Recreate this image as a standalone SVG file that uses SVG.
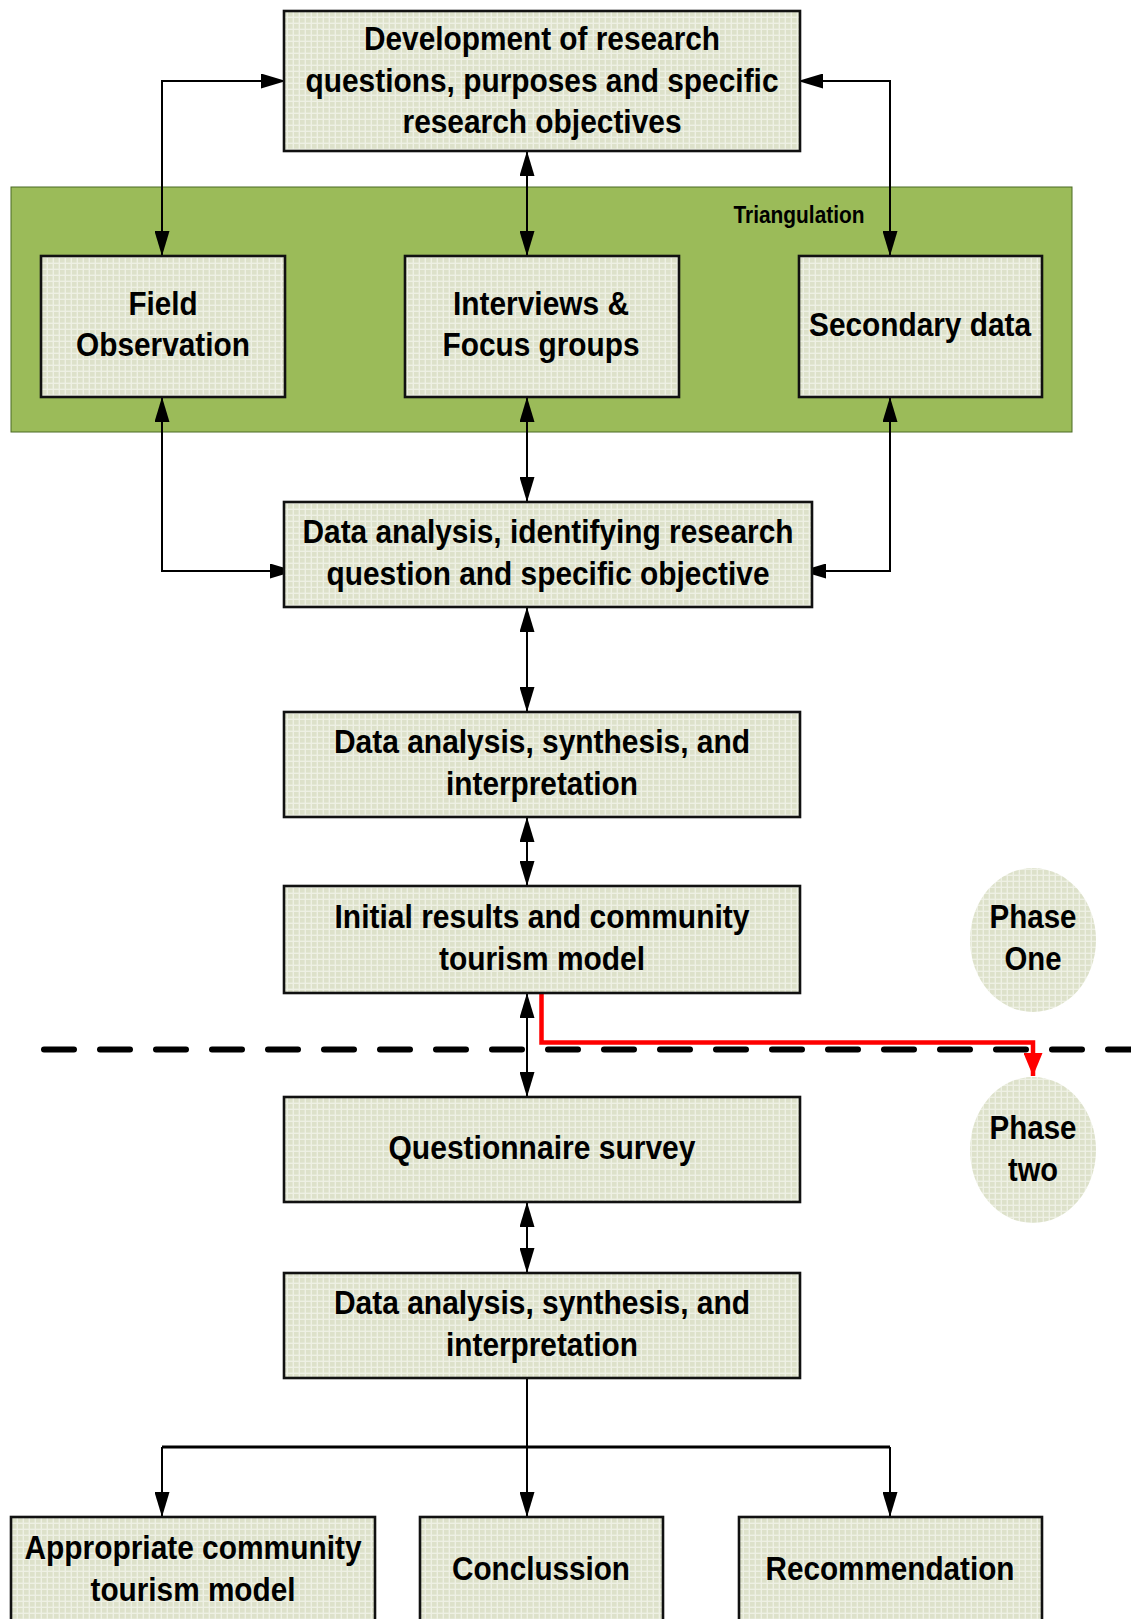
<svg xmlns="http://www.w3.org/2000/svg" width="1131" height="1619" viewBox="0 0 1131 1619">
  <defs>
    <pattern id="grid" width="6" height="6" patternUnits="userSpaceOnUse">
      <rect width="6" height="6" fill="#eef0e4"/>
      <rect x="0" y="0" width="4.6" height="4.6" fill="#dde1ca"/>
    </pattern>
    <marker id="ah" viewBox="0 0 25 15" markerWidth="25" markerHeight="15" refX="25" refY="7.5" orient="auto-start-reverse" markerUnits="userSpaceOnUse">
      <path d="M0,0 L25,7.5 L0,15 z" fill="#000"/>
    </marker>
    <marker id="ahr" viewBox="0 0 23 19" markerWidth="23" markerHeight="19" refX="23" refY="9.5" orient="auto" markerUnits="userSpaceOnUse">
      <path d="M0,0 L23,9.5 L0,19 z" fill="#ff0000"/>
    </marker>
  </defs>
  <style>
    .box { fill: url(#grid); stroke: #111; stroke-width: 2.6; }
    .oval { fill: url(#grid); stroke: none; }
    .t { font-family: "Liberation Sans", Arial, sans-serif; font-weight: bold; font-size: 34px; fill: #000; text-anchor: middle; }
    .small { font-size: 23px; }
    .ln { fill: none; stroke: #000; stroke-width: 2; }
    .two { marker-start: url(#ah); marker-end: url(#ah); }
    .one { marker-end: url(#ah); }
  </style>

  <rect width="1131" height="1619" fill="#fff"/>

  <!-- triangulation panel -->
  <g id="triangulation">
    <rect x="11" y="187" width="1061" height="245" fill="#9bbb59" stroke="#4a6a24" stroke-width="1"/>
    <text class="t small" x="799" y="223" textLength="131" lengthAdjust="spacingAndGlyphs">Triangulation</text>
  </g>

  <!-- phase divider -->
  <line x1="44" y1="1049.5" x2="1131" y2="1049.5" stroke="#000" stroke-width="6" stroke-linecap="round" stroke-dasharray="30 26"/>

  <g id="connectors">
    <!-- research questions to the three data sources -->
    <path class="ln two" d="M286,81 H162 V256"/>
    <path class="ln two" d="M798,81 H890 V256"/>
    <path class="ln two" d="M527,151 V256"/>
    <!-- data sources to first analysis -->
    <path class="ln two" d="M162,397 V571 H295"/>
    <path class="ln two" d="M890,397 V571 H801"/>
    <path class="ln two" d="M527,397 V502"/>
    <!-- main chain -->
    <path class="ln two" d="M527,607 V712"/>
    <path class="ln two" d="M527,817 V886"/>
    <path class="ln two" d="M527,993 V1097"/>
    <path class="ln two" d="M527,1202 V1273"/>
    <!-- split to outcomes -->
    <path class="ln" d="M527,1378 V1447" />
    <path d="M162,1447 H890" fill="none" stroke="#000" stroke-width="3"/>
    <path class="ln one" d="M162,1447 V1517"/>
    <path class="ln one" d="M527,1447 V1517"/>
    <path class="ln one" d="M890,1447 V1517"/>
    <!-- phase transition -->
    <path d="M541.5,993 V1042.5 H1033 V1076" fill="none" stroke="#ff0000" stroke-width="4.5" marker-end="url(#ahr)"/>
  </g>

  <g id="n-objectives">
    <rect class="box" x="284" y="11" width="516" height="140"/>
    <text class="t" x="542" y="50" textLength="356" lengthAdjust="spacingAndGlyphs">Development of research</text>
    <text class="t" x="542" y="92" textLength="473" lengthAdjust="spacingAndGlyphs">questions, purposes and specific</text>
    <text class="t" x="542" y="133" textLength="279" lengthAdjust="spacingAndGlyphs">research objectives</text>
  </g>

  <g id="n-field">
    <rect class="box" x="41" y="256" width="244" height="141"/>
    <text class="t" x="163" y="315" textLength="69" lengthAdjust="spacingAndGlyphs">Field</text>
    <text class="t" x="163" y="356" textLength="174" lengthAdjust="spacingAndGlyphs">Observation</text>
  </g>

  <g id="n-interviews">
    <rect class="box" x="405" y="256" width="274" height="141"/>
    <text class="t" x="541" y="315" textLength="176" lengthAdjust="spacingAndGlyphs">Interviews &amp;</text>
    <text class="t" x="541" y="356" textLength="197" lengthAdjust="spacingAndGlyphs">Focus groups</text>
  </g>

  <g id="n-secondary">
    <rect class="box" x="799" y="256" width="243" height="141"/>
    <text class="t" x="920" y="336" textLength="222" lengthAdjust="spacingAndGlyphs">Secondary data</text>
  </g>

  <g id="n-analysis1">
    <rect class="box" x="284" y="502" width="528" height="105"/>
    <text class="t" x="548" y="543" textLength="491" lengthAdjust="spacingAndGlyphs">Data analysis, identifying research</text>
    <text class="t" x="548" y="585" textLength="443" lengthAdjust="spacingAndGlyphs">question and specific objective</text>
  </g>

  <g id="n-synthesis1">
    <rect class="box" x="284" y="712" width="516" height="105"/>
    <text class="t" x="542" y="753" textLength="416" lengthAdjust="spacingAndGlyphs">Data analysis, synthesis, and</text>
    <text class="t" x="542" y="795" textLength="192" lengthAdjust="spacingAndGlyphs">interpretation</text>
  </g>

  <g id="n-initial">
    <rect class="box" x="284" y="886" width="516" height="107"/>
    <text class="t" x="542" y="928" textLength="415" lengthAdjust="spacingAndGlyphs">Initial results and community</text>
    <text class="t" x="542" y="970" textLength="206" lengthAdjust="spacingAndGlyphs">tourism model</text>
  </g>

  <g id="n-phase-one">
    <ellipse class="oval" cx="1033" cy="940" rx="63" ry="72"/>
    <text class="t" x="1033" y="928" textLength="87" lengthAdjust="spacingAndGlyphs">Phase</text>
    <text class="t" x="1033" y="970" textLength="57" lengthAdjust="spacingAndGlyphs">One</text>
  </g>

  <g id="n-questionnaire">
    <rect class="box" x="284" y="1097" width="516" height="105"/>
    <text class="t" x="542" y="1159" textLength="307" lengthAdjust="spacingAndGlyphs">Questionnaire survey</text>
  </g>

  <g id="n-phase-two">
    <ellipse class="oval" cx="1033" cy="1150" rx="63" ry="73"/>
    <text class="t" x="1033" y="1139" textLength="87" lengthAdjust="spacingAndGlyphs">Phase</text>
    <text class="t" x="1033" y="1181" textLength="50" lengthAdjust="spacingAndGlyphs">two</text>
  </g>

  <g id="n-synthesis2">
    <rect class="box" x="284" y="1273" width="516" height="105"/>
    <text class="t" x="542" y="1314" textLength="416" lengthAdjust="spacingAndGlyphs">Data analysis, synthesis, and</text>
    <text class="t" x="542" y="1356" textLength="192" lengthAdjust="spacingAndGlyphs">interpretation</text>
  </g>

  <g id="n-model">
    <rect class="box" x="11" y="1517" width="364" height="120"/>
    <text class="t" x="193" y="1559" textLength="337" lengthAdjust="spacingAndGlyphs">Appropriate community</text>
    <text class="t" x="193" y="1601" textLength="205" lengthAdjust="spacingAndGlyphs">tourism model</text>
  </g>

  <g id="n-conclusion">
    <rect class="box" x="420" y="1517" width="243" height="120"/>
    <text class="t" x="541" y="1580" textLength="178" lengthAdjust="spacingAndGlyphs">Conclussion</text>
  </g>

  <g id="n-recommendation">
    <rect class="box" x="739" y="1517" width="303" height="120"/>
    <text class="t" x="890" y="1580" textLength="249" lengthAdjust="spacingAndGlyphs">Recommendation</text>
  </g>
</svg>
